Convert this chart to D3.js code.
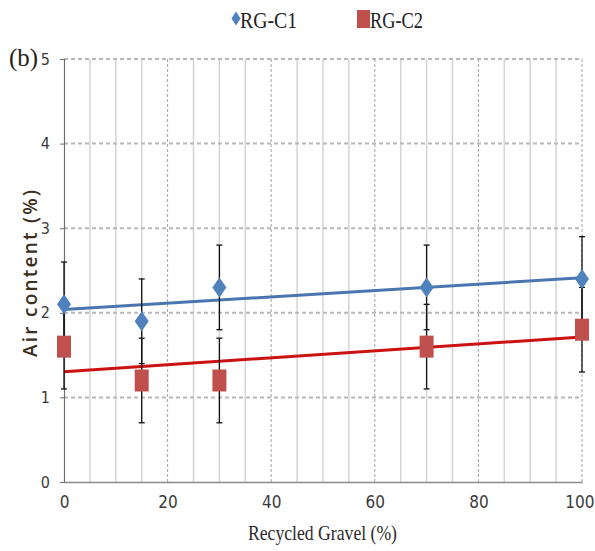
<!DOCTYPE html>
<html>
<head>
<meta charset="utf-8">
<script src="https://cdn.jsdelivr.net/npm/d3@7"></script>
<style>
  html, body { margin: 0; padding: 0; background: #fff; }
  svg { display: block; }
</style>
</head>
<body>
<svg id="chart" width="595" height="551"></svg>
<script>
// Recycled gravel content (%) for each mix
const gravel = [0, 15, 30, 70, 100];
// Air content (%) of the two concrete series
const airC1 = [2.1, 1.9, 2.3, 2.3, 2.4];
const airC2 = [1.6, 1.2, 1.2, 1.6, 1.8];
// Standard deviation used for the error bars
const errC1 = [0.5, 0.5, 0.5, 0.5, 0.5];
const errC2 = [0.5, 0.5, 0.5, 0.5, 0.5];
const seriesNames = ["RG-C1", "RG-C2"];
const xTicks = [0, 20, 40, 60, 80, 100];
const yTicks = [0, 1, 2, 3, 4, 5];

const svg = d3.select("#chart");
const m = { left: 64, right: 13, top: 59, bottom: 69 };
const W = 595, H = 551;

const x = d3.scaleLinear().domain([0, 100]).range([m.left, W - m.right]);
const y = d3.scaleLinear().domain([0, 5]).range([H - m.bottom, m.top]);

const narrow = "'Liberation Sans Narrow', 'DejaVu Sans Condensed', sans-serif";
const serif = "'Liberation Serif', 'DejaVu Serif', serif";

// Vertical minor grid every 5 %, major dashed grid every 20 %
const g = svg.append("g");
g.selectAll(".vminor").data(d3.range(5, 101, 5).filter(v => v % 20 !== 0))
  .join("line")
  .attr("x1", d => x(d)).attr("x2", d => x(d))
  .attr("y1", y(5)).attr("y2", y(0))
  .attr("stroke", "#d4d4d4").attr("stroke-width", 1.5);
g.selectAll(".vmajor").data([20, 40, 60, 80, 100])
  .join("line")
  .attr("x1", d => x(d)).attr("x2", d => x(d))
  .attr("y1", y(5)).attr("y2", y(0))
  .attr("stroke", "#8c8c8c").attr("stroke-width", 0.8)
  .attr("stroke-dasharray", "3,2");
// Horizontal dashed grid
g.selectAll(".hgrid").data(yTicks.filter(v => v > 0))
  .join("line")
  .attr("x1", x(0)).attr("x2", x(100))
  .attr("y1", d => y(d)).attr("y2", d => y(d))
  .attr("stroke", "#b8b8b8").attr("stroke-width", 2)
  .attr("stroke-dasharray", "4,3");

// Axes
const yAxis = svg.append("g")
  .attr("transform", `translate(${x(0)},0)`)
  .call(d3.axisLeft(y).tickValues(yTicks).tickSize(4).tickFormat(d3.format("d")));
yAxis.select(".domain").attr("stroke", "#6e6e6e").attr("stroke-width", 1.2);
yAxis.selectAll(".tick line").attr("stroke", "#6e6e6e");
yAxis.selectAll(".tick text")
  .attr("font-family", narrow)
  .attr("font-size", 16).attr("fill", "#3a3a3a").attr("x", -14);

const xAxis = svg.append("g")
  .attr("transform", `translate(0,${y(0)})`)
  .call(d3.axisBottom(x).tickValues(xTicks).tickSize(0).tickFormat(d3.format("d")));
xAxis.select(".domain").attr("stroke", "#8a8a8a").attr("stroke-width", 1.5);
xAxis.selectAll(".tick text")
  .attr("font-family", narrow)
  .attr("font-size", 17).attr("fill", "#3a3a3a").attr("y", 0).attr("dy", 0)
  .attr("transform", "translate(0,26)");
// keep the last label inside the canvas
xAxis.selectAll(".tick text").filter(d => d === 100).attr("text-anchor", "end").attr("x", 12);

// Axis titles
svg.append("text")
  .attr("x", 248).attr("y", 540)
  .attr("font-family", serif)
  .attr("font-size", 21).attr("fill", "#2a2a2a")
  .attr("textLength", 149).attr("lengthAdjust", "spacingAndGlyphs")
  .text("Recycled Gravel (%)");
svg.append("text")
  .attr("transform", "translate(37,357) rotate(-90)")
  .attr("font-family", "'Open Sans', sans-serif")
  .attr("font-weight", 600)
  .attr("font-size", 19).attr("fill", "#3b3020")
  .attr("textLength", 167).attr("lengthAdjust", "spacing")
  .text("Air content (%)");

svg.append("text")
  .attr("x", 9).attr("y", 66)
  .attr("font-family", serif)
  .attr("font-size", 25).attr("fill", "#222")
  .attr("textLength", 29).attr("lengthAdjust", "spacingAndGlyphs")
  .text("(b)");

// Linear trend lines (least squares)
function fit(xs, ys) {
  const mx = d3.mean(xs), my = d3.mean(ys);
  const sxy = d3.sum(xs, (v, i) => (v - mx) * (ys[i] - my));
  const sxx = d3.sum(xs, v => (v - mx) ** 2);
  const b = sxy / sxx;
  return { a: my - b * mx, b };
}
const f1 = fit(gravel, airC1), f2 = fit(gravel, airC2);
const line = d3.line().x(d => x(d[0])).y(d => y(d[1]));
svg.append("path").datum([[0, f1.a], [100, f1.a + 100 * f1.b]])
  .attr("d", line).attr("stroke", "#4a76b0").attr("stroke-width", 3).attr("fill", "none");
svg.append("path").datum([[0, f2.a], [100, f2.a + 100 * f2.b]])
  .attr("d", line).attr("stroke", "#cc1111").attr("stroke-width", 3).attr("fill", "none");

// Error bars
function errorBars(vals, errs) {
  const data = gravel.map((gv, i) => ({ x: gv, v: vals[i], e: errs[i] }));
  const eg = svg.append("g").attr("stroke", "#111").attr("stroke-width", 1.3);
  eg.selectAll(".stem").data(data).join("line")
    .attr("x1", d => x(d.x)).attr("x2", d => x(d.x))
    .attr("y1", d => y(d.v - d.e)).attr("y2", d => y(d.v + d.e));
  eg.selectAll(".capT").data(data).join("line")
    .attr("x1", d => x(d.x) - 3).attr("x2", d => x(d.x) + 3)
    .attr("y1", d => y(d.v + d.e)).attr("y2", d => y(d.v + d.e));
  eg.selectAll(".capB").data(data).join("line")
    .attr("x1", d => x(d.x) - 3).attr("x2", d => x(d.x) + 3)
    .attr("y1", d => y(d.v - d.e)).attr("y2", d => y(d.v - d.e));
}
errorBars(airC1, errC1);
errorBars(airC2, errC2);

// Markers
const diamond = (cx, cy, hw, hh) => `M${cx},${cy - hh} L${cx + hw},${cy} L${cx},${cy + hh} L${cx - hw},${cy} Z`;
svg.append("g").selectAll("path").data(gravel.map((gv, i) => [gv, airC1[i]]))
  .join("path")
  .attr("d", d => diamond(x(d[0]), y(d[1]), 7, 10))
  .attr("fill", "#4f81bd");
svg.append("g").selectAll("rect").data(gravel.map((gv, i) => [gv, airC2[i]]))
  .join("rect")
  .attr("x", d => x(d[0]) - 7).attr("y", d => y(d[1]) - 11)
  .attr("width", 14).attr("height", 22)
  .attr("fill", "#c0504d");

// Legend
const leg = svg.append("g");
leg.append("path").attr("d", diamond(236, 18.5, 4.5, 7)).attr("fill", "#4f81bd");
leg.append("rect").attr("x", 357).attr("y", 10).attr("width", 13).attr("height", 18).attr("fill", "#c0504d");
[[240, seriesNames[0], 57], [370, seriesNames[1], 53]].forEach(([lx, t, w]) => {
  leg.append("text")
    .attr("x", lx).attr("y", 28)
    .attr("font-family", serif)
    .attr("font-size", 23).attr("fill", "#222")
    .attr("textLength", w).attr("lengthAdjust", "spacingAndGlyphs")
    .text(t);
});
</script>
</body>
</html>
